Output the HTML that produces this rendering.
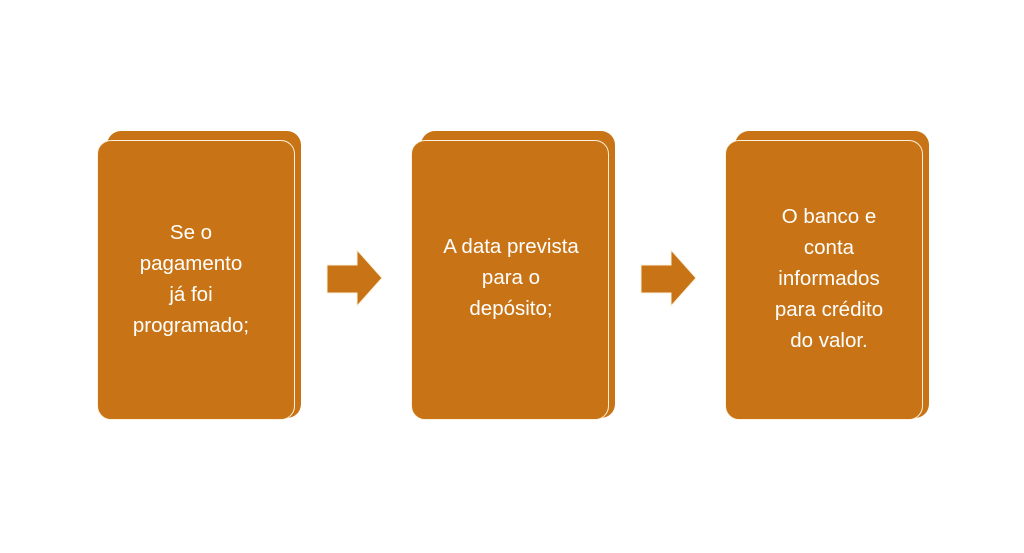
<!DOCTYPE html>
<html><head><style>
body{margin:0;width:1024px;height:553px;background:#fff;position:relative;overflow:hidden;font-family:"Liberation Sans",sans-serif}
.back{position:absolute;background:#C87416;border-radius:14px;width:194px;height:287px;top:131px}
.front{position:absolute;background:#C87416;border:1.5px solid #FBF1DC;border-radius:14px;width:195px;height:277px;top:140px;box-sizing:border-box;display:flex;align-items:center;justify-content:center;text-align:center;color:#fff;font-size:20.5px;line-height:31px;padding:0 4px}
svg{position:absolute;top:248px}
</style></head><body>
<div class="back" style="left:107px"></div>
<div class="front" style="left:97px;width:198px;height:280px"><div style="margin-top:-2px;margin-left:-10px">Se o<br>pagamento<br>já foi<br>programado;</div></div>
<div class="back" style="left:421px"></div>
<div class="front" style="left:411px;width:198px;height:280px"><div style="margin-top:-6px;margin-left:2px">A data prevista<br>para o<br>depósito;</div></div>
<div class="back" style="left:735px"></div>
<div class="front" style="left:725px;width:198px;height:280px"><div style="margin-top:-4px;margin-left:10px">O banco e<br>conta<br>informados<br>para crédito<br>do valor.</div></div>
<svg style="left:325px" width="60" height="62"><polygon points="2,17 32,17 32,2 57,30 32,58 32,45 2,45" fill="#C87416" stroke="#FBF1DC" stroke-width="1"/></svg>
<svg style="left:639px" width="60" height="62"><polygon points="2,17 32,17 32,2 57,30 32,58 32,45 2,45" fill="#C87416" stroke="#FBF1DC" stroke-width="1"/></svg>
</body></html>
